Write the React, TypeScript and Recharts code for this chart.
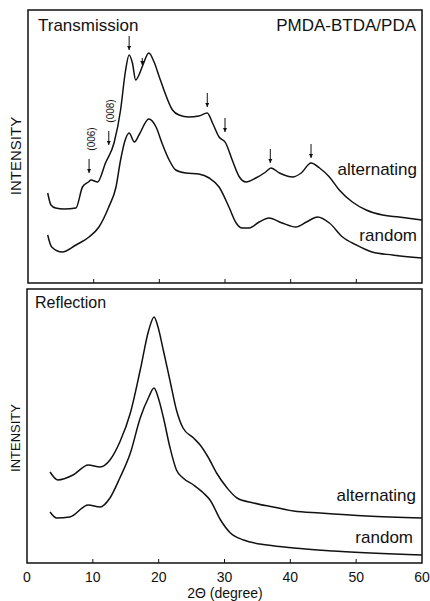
import { LineChart, Line, XAxis, YAxis, ReferenceDot, ReferenceArea, ReferenceLine } from "recharts";

// 2θ (degree) / intensity (arb. units)
const transAltX = [3.0, 3.5, 4.2, 5.5, 7.3, 8.3, 9.2, 9.6, 10.6, 11.8, 13.1, 14.1, 14.8, 15.4, 15.9, 16.4, 16.9, 17.5, 18.4, 19.2, 20.0, 20.7, 22.0, 23.0, 24.5, 26.0, 27.3, 28.1, 29.1, 30.1, 31.1, 32.2, 33.2, 34.7, 36.2, 37.0, 38.3, 40.3, 41.6, 43.1, 44.4, 45.9, 47.4, 49.4, 51.5, 54.0, 56.5, 60.0];
const transAltY = [90, 78, 75, 74, 75, 96, 101, 103, 101, 120, 140, 173, 210, 228, 220, 203, 208, 218, 230, 221, 206, 193, 173, 168, 166, 167, 170, 160, 146, 140, 123, 106, 101, 105, 111, 115, 110, 106, 110, 120, 115, 106, 93, 81, 73, 68, 66, 63];

const transRanX = [3.0, 3.6, 5.2, 7.3, 9.3, 10.8, 12.3, 13.4, 14.1, 14.8, 15.4, 16.2, 16.9, 18.4, 19.5, 20.4, 21.5, 22.5, 24.0, 26.0, 27.6, 29.1, 30.6, 31.7, 32.6, 33.7, 35.2, 36.7, 38.7, 40.8, 42.4, 44.1, 45.9, 47.9, 50.0, 52.4, 55.5, 60.0];
const transRanY = [48, 36, 31, 38, 46, 56, 76, 96, 123, 143, 150, 141, 148, 164, 156, 140, 123, 113, 110, 109, 105, 96, 76, 60, 55, 55, 61, 65, 60, 56, 61, 66, 60, 46, 38, 31, 28, 25];

const reflAltX = [3.5, 4.7, 7.0, 9.3, 11.1, 12.6, 14.1, 15.7, 17.2, 18.5, 19.3, 19.9, 20.7, 21.7, 22.7, 23.7, 25.3, 26.3, 27.5, 28.8, 30.4, 31.9, 34.4, 37.4, 40.5, 44.5, 51.6, 60.0];
const reflAltY = [91, 83, 88, 98, 96, 103, 121, 150, 193, 233, 246, 236, 213, 183, 153, 135, 125, 118, 106, 90, 75, 65, 60, 56, 52, 50, 47, 45];

const reflRanX = [3.5, 4.5, 6.5, 9.3, 11.1, 12.6, 14.1, 15.7, 17.2, 18.5, 19.3, 19.9, 20.7, 21.7, 22.7, 23.7, 25.3, 26.8, 27.8, 29.4, 30.9, 32.9, 36.5, 40.5, 46.6, 60.0];
const reflRanY = [51, 45, 46, 58, 56, 65, 85, 110, 145, 166, 175, 166, 146, 116, 93, 85, 78, 70, 63, 43, 30, 23, 18, 15, 12, 8];

// peak arrows on the transmission "alternating" curve
const arrowX = [9.3, 12.3, 15.4, 17.4, 27.3, 30.0, 36.9, 43.1];
const arrowY = [110, 138, 233, 218, 176, 151, 120, 125];
const arrowLabels = ["(006)", "(008)", "", "", "", "", "", ""];

const xTicks = [0, 10, 20, 30, 40, 50, 60];
const innerTicks = [10, 20, 30, 40, 50];
const TOP_MAX = 273;
const BOT_MAX = 274;
const TICK_LEN = 4;

const zip = (xs: number[], ys: number[]) => xs.map((x, i) => ({ x, y: ys[i] }));

const FONT = "'Liberation Sans', Arial, sans-serif";
const INK = "#111";

const Arrow = (props: any) => {
  const { cx, cy, label, small } = props;
  const len = small ? 7 : 14;
  return (
    <g>
      <line x1={cx} y1={cy - len} x2={cx} y2={cy} stroke={INK} strokeWidth={1} />
      <path d={`M${cx - 2},${cy - 4} L${cx},${cy} L${cx + 2},${cy - 4} Z`} fill={INK} />
      {label ? (
        <text
          x={cx + 2}
          y={cy - 34}
          transform={`rotate(-90 ${cx + 2} ${cy - 34})`}
          textAnchor="middle"
          dominantBaseline="central"
          fontSize={10}
          fontFamily={FONT}
          fill={INK}
        >
          {label}
        </text>
      ) : null}
    </g>
  );
};

function frame(max: number) {
  return [
    <ReferenceArea key="box" xAxisId="b" yAxisId="l" x1={0} x2={60} y1={0} y2={max} fill="none" stroke={INK} strokeWidth={1.5} />,
    ...innerTicks.map((t) => (
      <ReferenceLine
        key={"t" + t}
        xAxisId="b"
        yAxisId="l"
        segment={[{ x: t, y: 0 }, { x: t, y: TICK_LEN }]}
        stroke={INK}
        strokeWidth={1}
      />
    )),
  ];
}

export default function App() {
  return (
    <div style={{ position: "absolute", left: 0, top: 0, width: 430, height: 601, background: "#fff", fontFamily: FONT }}>
      <div style={{ position: "absolute", left: 0, top: 0 }}>
        <LineChart width={430} height={290} margin={{ top: 10, right: 8, bottom: 7, left: 28 }}>
          <XAxis xAxisId="b" type="number" dataKey="x" domain={[0, 60]} ticks={xTicks} height={0} hide />
          <YAxis yAxisId="l" type="number" domain={[0, TOP_MAX]} width={0} hide />
          {frame(TOP_MAX)}
          <Line xAxisId="b" yAxisId="l" data={zip(transAltX, transAltY)} dataKey="y" type="monotone" stroke={INK} strokeWidth={1.5} dot={false} isAnimationActive={false} />
          <Line xAxisId="b" yAxisId="l" data={zip(transRanX, transRanY)} dataKey="y" type="monotone" stroke={INK} strokeWidth={1.5} dot={false} isAnimationActive={false} />
          {arrowX.map((x, i) => (
            <ReferenceDot
              key={i}
              xAxisId="b"
              yAxisId="l"
              x={x}
              y={arrowY[i]}
              r={0}
              shape={(p: any) => <Arrow {...p} label={arrowLabels[i]} small={i === 3} />}
            />
          ))}
        </LineChart>
      </div>
      <div style={{ position: "absolute", left: 0, top: 280 }}>
        <LineChart width={430} height={321} margin={{ top: 9, right: 8, bottom: 0, left: 27 }}>
          <XAxis
            xAxisId="b"
            type="number"
            dataKey="x"
            domain={[0, 60]}
            ticks={xTicks}
            height={38}
            tickSize={-4}
            tickMargin={13}
            tick={{ fill: INK, fontSize: 14, fontFamily: FONT }}
            axisLine={false}
            tickLine={false}
          />
          <YAxis yAxisId="l" type="number" domain={[0, BOT_MAX]} width={0} hide />
          {frame(BOT_MAX)}
          <Line xAxisId="b" yAxisId="l" data={zip(reflAltX, reflAltY)} dataKey="y" type="monotone" stroke={INK} strokeWidth={1.5} dot={false} isAnimationActive={false} />
          <Line xAxisId="b" yAxisId="l" data={zip(reflRanX, reflRanY)} dataKey="y" type="monotone" stroke={INK} strokeWidth={1.5} dot={false} isAnimationActive={false} />
        </LineChart>
      </div>
      <svg width={430} height={601} style={{ position: "absolute", left: 0, top: 0, pointerEvents: "none" }} fontFamily={FONT} fill={INK}>
        <text x={38} y={31} fontSize={17}>Transmission</text>
        <text x={416} y={31} fontSize={17} textAnchor="end">PMDA-BTDA/PDA</text>
        <text x={417} y={175} fontSize={17} textAnchor="end">alternating</text>
        <text x={417} y={241} fontSize={17} textAnchor="end">random</text>
        <text x={35} y={308} fontSize={16}>Reflection</text>
        <text x={416} y={501} fontSize={17} textAnchor="end">alternating</text>
        <text x={413} y={543} fontSize={17} textAnchor="end">random</text>
        <text x={225} y={598} fontSize={14} textAnchor="middle">2Θ (degree)</text>
        <text x={15} y={156} fontSize={15} textAnchor="middle" dominantBaseline="central" transform="rotate(-90 15 156)">INTENSITY</text>
        <text x={15} y={438} fontSize={13} textAnchor="middle" dominantBaseline="central" transform="rotate(-90 15 438)">INTENSITY</text>
      </svg>
    </div>
  );
}
